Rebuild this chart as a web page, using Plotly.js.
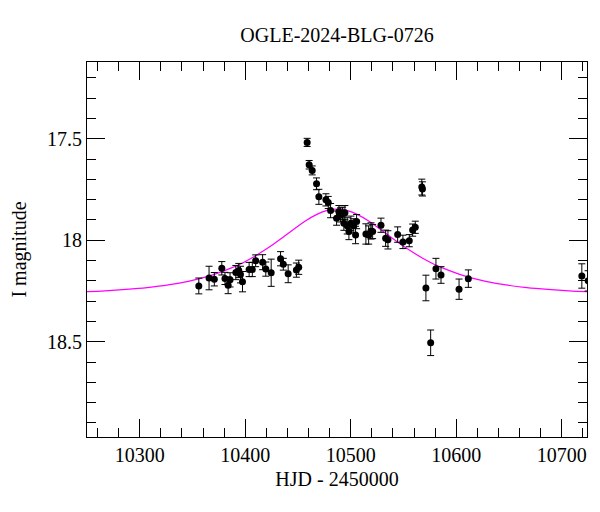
<!DOCTYPE html>
<html>
<head>
<meta charset="utf-8">
<script src="https://cdn.plot.ly/plotly-3.0.1.min.js"></script>
<style>html,body{margin:0;padding:0;background:#fff;}#chart{width:600px;height:512px;}</style>
</head>
<body>
<div id="chart"></div>
<script>
// Observed photometry (HJD - 2450000, I magnitude, error)
var hjd = [10356.0,10365.7,10370.7,10377.8,10380.8,10383.8,10385.6,10391.1,10393.9,10395.5,10397.4,10403.7,10406.7,10409.9,10416.5,10419.5,10424.6,10433.5,10436.1,10440.7,10448.5,10450.7,
           10458.7,10460.6,10463.5,10467.6,10469.8,10476.5,10478.7,10480.9,10486.6,10488.8,10490.4,10492.3,10494.5,10493.5,10496.7,10498.3,10500.2,10502.4,10504.6,10505.6,10514.4,10517.0,10519.2,10520.8,10528.7,10533.1,10535.3,10544.5,10549.5,10555.5,10558.7,10561.2,10567.4,10568.0,
           10571.3,10575.8,10580.8,10585.6,10602.7,10611.5,10719.1,10725.0];
var imag = [18.225,18.186,18.192,18.138,18.188,18.222,18.195,18.159,18.149,18.169,18.204,18.144,18.144,18.101,18.108,18.142,18.160,18.091,18.118,18.165,18.147,18.133,
            17.518,17.628,17.656,17.722,17.786,17.801,17.814,17.854,17.891,17.859,17.875,17.867,17.864,17.916,17.929,17.957,17.916,17.929,17.974,17.908,17.969,17.974,17.954,17.957,17.926,17.990,17.998,17.972,18.008,18.002,17.950,17.936,17.738,17.747,
            18.235,18.505,18.140,18.171,18.241,18.189,18.176,18.200];
var ierr = [0.039,0.058,0.033,0.033,0.030,0.041,0.035,0.035,0.035,0.041,0.050,0.035,0.035,0.029,0.037,0.035,0.067,0.035,0.029,0.044,0.035,0.035,
            0.020,0.021,0.022,0.029,0.037,0.030,0.030,0.035,0.035,0.030,0.035,0.030,0.035,0.035,0.040,0.040,0.035,0.035,0.043,0.035,0.050,0.045,0.040,0.035,0.035,0.040,0.045,0.038,0.033,0.030,0.030,0.030,0.039,0.035,
            0.063,0.063,0.051,0.041,0.050,0.043,0.060,0.050];

// Model curve samples
var modelT = [10247,10267,10287,10307,10327,10347,10367,10387,10397,10407,10417,10427,10437,10447,10457,10467,10477,10487,10497,10507,10517,10527,10537,10547,10557,10567,10577,10587,10607,10627,10647,10667,10687,10707,10727];
var modelM = [18.254,18.249,18.242,18.233,18.220,18.201,18.174,18.136,18.113,18.085,18.053,18.018,17.980,17.942,17.905,17.875,17.854,17.847,17.854,17.875,17.905,17.942,17.980,18.018,18.053,18.085,18.113,18.136,18.174,18.201,18.220,18.233,18.242,18.249,18.254];

var titleText = 'OGLE-2024-BLG-0726';
var xTitle = 'HJD - 2450000';
var yTitle = 'I magnitude';

var FONT = 'Liberation Serif, Times New Roman, serif';

var traces = [
  {
    x: modelT, y: modelM, type: 'scatter', mode: 'lines',
    line: {color: '#ff00ff', width: 1.2, shape: 'spline', smoothing: 1},
    hoverinfo: 'skip', showlegend: false
  },
  {
    x: hjd, y: imag, type: 'scatter', mode: 'markers',
    marker: {color: '#000', size: 7},
    error_y: {type: 'data', array: ierr, visible: true, color: '#000', thickness: 1, width: 3.5},
    showlegend: false
  }
];

var axisCommon = {
  showgrid: false, zeroline: false,
  showline: true, linecolor: '#000', linewidth: 1, mirror: 'allticks',
  ticks: 'inside', tickcolor: '#000', ticklen: 18, tickwidth: 1,
  tickfont: {family: FONT, size: 20, color: '#000'}
};

var layout = {
  width: 600, height: 512,
  paper_bgcolor: '#fff', plot_bgcolor: '#fff',
  margin: {l: 87, r: 13, t: 62, b: 75},
  font: {family: FONT, size: 20, color: '#000'},
  title: {text: titleText, x: 0.5, xref: 'paper', y: 0.932, yref: 'container', yanchor: 'middle',
          font: {family: FONT, size: 20, color: '#000'}},
  xaxis: Object.assign({}, axisCommon, {
    range: [10250, 10724],
    tick0: 10300, dtick: 100, tickformat: 'd',
    minor: {dtick: 20, tick0: 10300, ticks: 'inside', ticklen: 9, tickcolor: '#000', tickwidth: 1},
    title: {text: xTitle, font: {family: FONT, size: 20, color: '#000'}, standoff: 6}
  }),
  yaxis: Object.assign({}, axisCommon, {
    range: [18.969, 17.122],
    tick0: 17.5, dtick: 0.5,
    minor: {dtick: 0.1, tick0: 17.5, ticks: 'inside', ticklen: 9, tickcolor: '#000', tickwidth: 1},
    title: {text: yTitle, font: {family: FONT, size: 20, color: '#000'}, standoff: 15}
  })
};

Plotly.newPlot('chart', traces, layout, {staticPlot: true, displayModeBar: false});
</script>
</body>
</html>
